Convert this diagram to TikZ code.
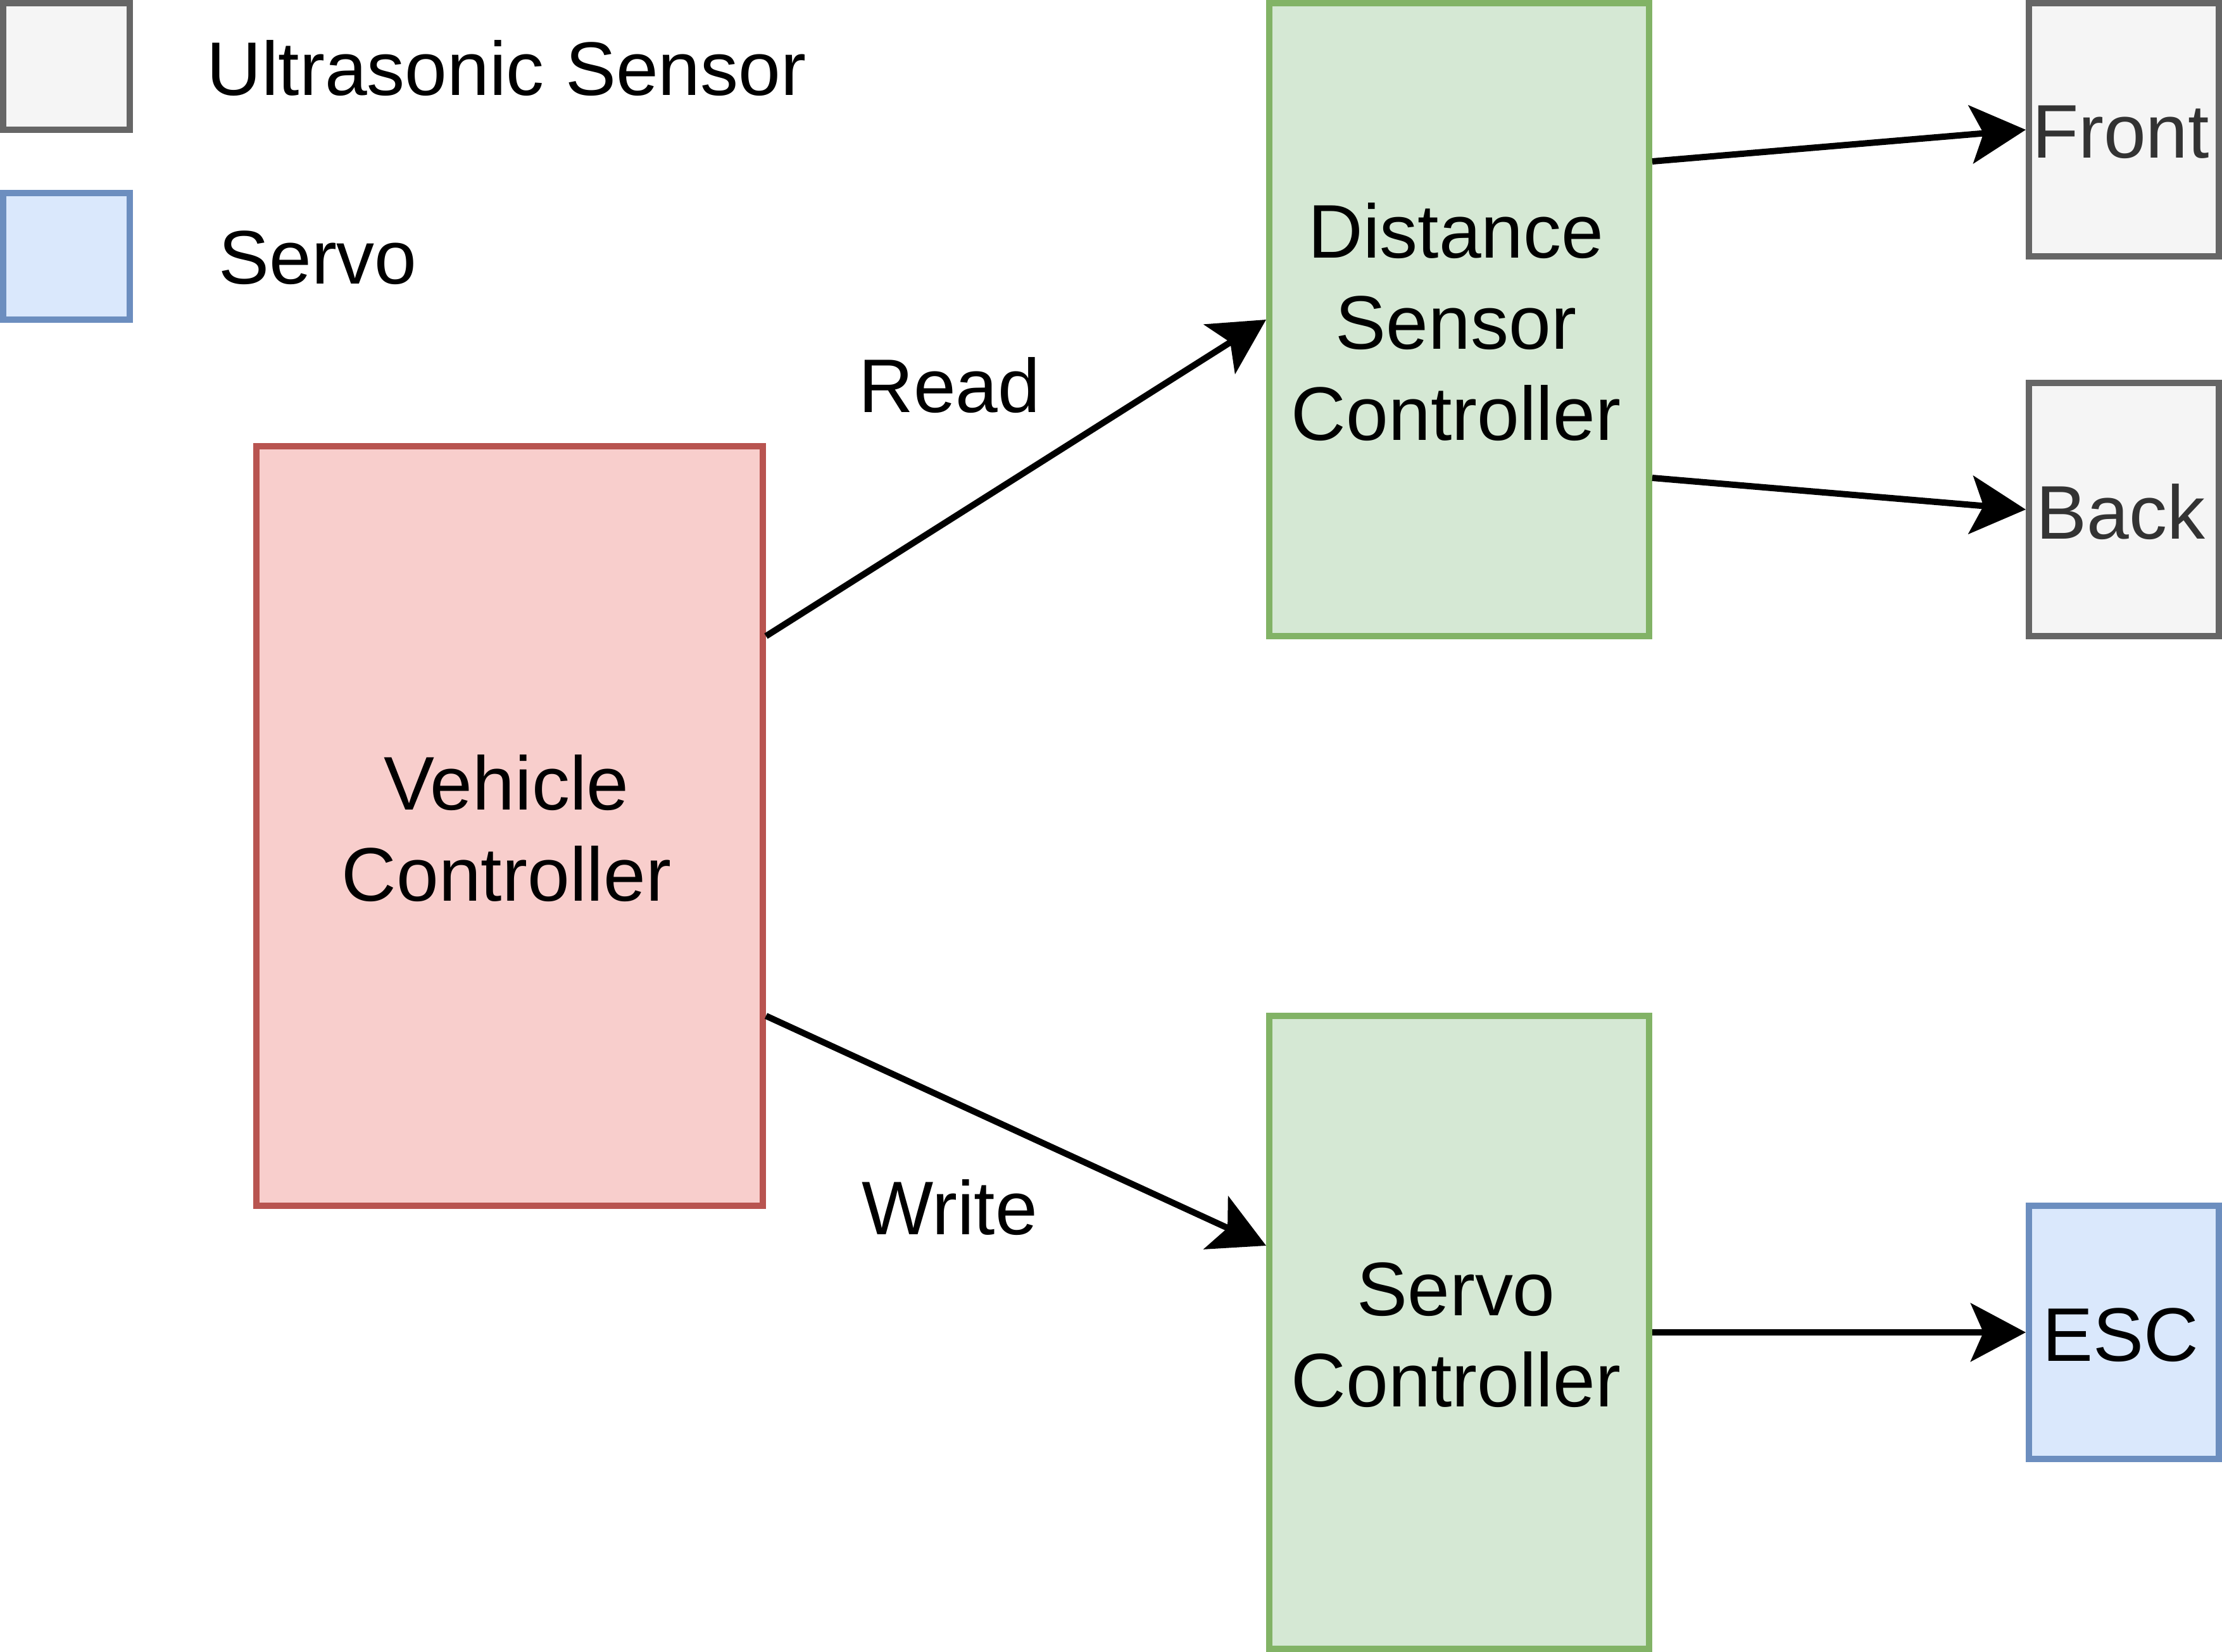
\documentclass[tikz,border=0pt]{standalone}
\usepackage{fontspec}
\setmainfont{Liberation Sans}
\usetikzlibrary{arrows.meta,calc}
\definecolor{greyfill}{HTML}{F5F5F5}
\definecolor{greydraw}{HTML}{666666}
\definecolor{bluefill}{HTML}{DAE8FC}
\definecolor{bluedraw}{HTML}{6C8EBF}
\definecolor{redfill}{HTML}{F8CECC}
\definecolor{reddraw}{HTML}{B85450}
\definecolor{greenfill}{HTML}{D5E8D4}
\definecolor{greendraw}{HTML}{82B366}
\definecolor{darktext}{HTML}{333333}
\begin{document}
\begin{tikzpicture}[
  txt/.style={font=\fontsize{34.14}{40.97}\selectfont},
  box/.style={rectangle, line width=1mm, inner sep=0pt},
  boxtxt/.style={txt, inner sep=0pt, align=center, xshift=-0.05cm, yshift=-0.04cm},
  greybox/.style={box, fill=greyfill, draw=greydraw},
  bluebox/.style={box, fill=bluefill, draw=bluedraw},
  redbox/.style={box, fill=redfill, draw=reddraw},
  greenbox/.style={box, fill=greenfill, draw=greendraw},
  lbl/.style={txt, inner sep=0pt},
  conn/.style={line width=1mm, -{Stealth[length=8.7mm,width=9.2mm,inset=2mm]}}
]
\useasboundingbox (0,0) rectangle (35.1,-26.1);
% legend
\node[greybox, minimum width=2cm, minimum height=2cm] (legU) at (1.05,-1.05) {};
\node[bluebox, minimum width=2cm, minimum height=2cm] (legS) at (1.05,-4.05) {};
\node[lbl] (legUt) at (8.0,-1.08) {Ultrasonic Sensor};
\node[lbl] (legSt) at (5.02,-4.07) {Servo};
% main boxes
\node[redbox, minimum width=8cm, minimum height=12cm,
  label={[boxtxt]center:{Vehicle\\Controller}}] (VC) at (8.05,-13.05) {};
\node[greenbox, minimum width=6cm, minimum height=10cm,
  label={[boxtxt]center:{Distance\\Sensor\\Controller}}] (DSC) at (23.05,-5.05) {};
\node[greenbox, minimum width=6cm, minimum height=10cm,
  label={[boxtxt]center:{Servo\\Controller}}] (SC) at (23.05,-21.05) {};
\node[greybox, minimum width=3cm, minimum height=4cm,
  label={[boxtxt, text=darktext]center:Front}] (F) at (33.55,-2.05) {};
\node[greybox, minimum width=3cm, minimum height=4cm,
  label={[boxtxt, text=darktext]center:Back}] (B) at (33.55,-8.05) {};
\node[bluebox, minimum width=3cm, minimum height=4cm,
  label={[boxtxt]center:ESC}] (E) at (33.55,-21.05) {};
% labels
\node[lbl] (rd) at (15.0,-6.09) {Read};
\node[lbl] (wr) at (15.0,-19.08) {Write};
% connectors
\draw[conn] ([yshift=3cm]VC.east) -- (DSC.west);
\draw[conn] ([yshift=-3cm]VC.east) -- ([yshift=1.37cm]SC.west);
\draw[conn] ([yshift=2.5cm]DSC.east) -- (F.west);
\draw[conn] ([yshift=-2.5cm]DSC.east) -- (B.west);
\draw[conn] (SC.east) -- (E.west);
\end{tikzpicture}
\end{document}
